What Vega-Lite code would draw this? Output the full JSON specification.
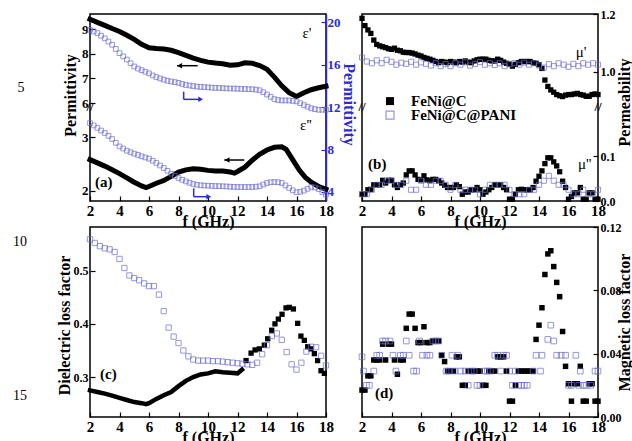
{
"$schema": "https://vega.github.io/schema/vega-lite/v6.json",
"background": "white",
"padding": {"left": 12, "top": 7, "right": 5, "bottom": 5},
"config": {
 "view": {"stroke": null},
 "font": "Liberation Serif",
 "axis": {"grid": false, "domain": false, "tickColor": "black", "tickWidth": 1.2, "tickSize": -5, "labelFont": "Liberation Serif", "labelFontWeight": "bold", "labelFontSize": 13, "labelColor": "black", "labelPadding": 7, "labelFlush": false, "labelOverlap": false, "titleFont": "Liberation Serif", "titleFontWeight": "bold", "titleFontSize": 16, "titleColor": "black"},
 "axisX": {"values": [2, 3, 4, 5, 6, 7, 8, 9, 10, 11, 12, 13, 14, 15, 16, 17, 18], "labelExpr": "datum.value % 2 == 0 ? datum.label : ''", "tickSize": {"condition": {"test": "datum.value % 2 == 1", "value": -3}, "value": -5}, "labelFontSize": 15, "titlePadding": -5}
},
"datasets": {
 "eps1_C": [{"f":2,"v":9.4},{"f":2.5,"v":9.27},{"f":3,"v":9.15},{"f":3.5,"v":9.02},{"f":4,"v":8.9},{"f":4.5,"v":8.75},{"f":5,"v":8.58},{"f":5.5,"v":8.38},{"f":6,"v":8.24},{"f":6.5,"v":8.21},{"f":7,"v":8.19},{"f":7.5,"v":8.14},{"f":8,"v":8.04},{"f":8.5,"v":7.93},{"f":9,"v":7.82},{"f":9.5,"v":7.73},{"f":10,"v":7.66},{"f":10.5,"v":7.62},{"f":11,"v":7.59},{"f":11.5,"v":7.53},{"f":12,"v":7.55},{"f":12.5,"v":7.63},{"f":13,"v":7.61},{"f":13.5,"v":7.52},{"f":14,"v":7.37},{"f":14.5,"v":7.05},{"f":15,"v":6.7},{"f":15.5,"v":6.42},{"f":16,"v":6.27},{"f":16.5,"v":6.42},{"f":17,"v":6.54},{"f":17.5,"v":6.62},{"f":18,"v":6.68}],
 "eps1_P": [{"f":2,"v":19.3},{"f":2.25,"v":19.15},{"f":2.5,"v":19.0},{"f":2.75,"v":18.75},{"f":3,"v":18.5},{"f":3.25,"v":18.2},{"f":3.5,"v":17.9},{"f":3.75,"v":17.5},{"f":4,"v":17.1},{"f":4.25,"v":16.8},{"f":4.5,"v":16.5},{"f":4.75,"v":16.15},{"f":5,"v":15.85},{"f":5.25,"v":15.65},{"f":5.5,"v":15.5},{"f":5.75,"v":15.35},{"f":6,"v":15.2},{"f":6.25,"v":15.0},{"f":6.5,"v":14.85},{"f":6.75,"v":14.72},{"f":7,"v":14.6},{"f":7.25,"v":14.5},{"f":7.5,"v":14.43},{"f":7.75,"v":14.37},{"f":8,"v":14.3},{"f":8.25,"v":14.2},{"f":8.5,"v":14.1},{"f":8.75,"v":14.05},{"f":9,"v":14.0},{"f":9.25,"v":13.95},{"f":9.5,"v":13.92},{"f":9.75,"v":13.9},{"f":10,"v":13.87},{"f":10.25,"v":13.85},{"f":10.5,"v":13.83},{"f":10.75,"v":13.82},{"f":11,"v":13.8},{"f":11.25,"v":13.78},{"f":11.5,"v":13.77},{"f":11.75,"v":13.76},{"f":12,"v":13.75},{"f":12.25,"v":13.73},{"f":12.5,"v":13.72},{"f":12.75,"v":13.7},{"f":13,"v":13.7},{"f":13.25,"v":13.66},{"f":13.5,"v":13.6},{"f":13.75,"v":13.42},{"f":14,"v":13.2},{"f":14.25,"v":12.98},{"f":14.5,"v":12.77},{"f":14.75,"v":12.68},{"f":15,"v":12.64},{"f":15.25,"v":12.64},{"f":15.5,"v":12.64},{"f":15.75,"v":12.6},{"f":16,"v":12.55},{"f":16.25,"v":12.38},{"f":16.5,"v":12.2},{"f":16.75,"v":12.05},{"f":17,"v":11.9},{"f":17.25,"v":11.82},{"f":17.5,"v":11.76},{"f":17.75,"v":11.76},{"f":18,"v":11.76}],
 "eps2_C": [{"f":2,"v":2.58},{"f":2.5,"v":2.52},{"f":3,"v":2.46},{"f":3.5,"v":2.39},{"f":4,"v":2.32},{"f":4.5,"v":2.24},{"f":5,"v":2.16},{"f":5.5,"v":2.09},{"f":5.8,"v":2.06},{"f":6,"v":2.08},{"f":6.5,"v":2.14},{"f":7,"v":2.19},{"f":7.5,"v":2.27},{"f":8,"v":2.35},{"f":8.5,"v":2.39},{"f":9,"v":2.41},{"f":9.5,"v":2.4},{"f":10,"v":2.38},{"f":10.5,"v":2.37},{"f":11,"v":2.37},{"f":11.5,"v":2.35},{"f":11.8,"v":2.33},{"f":12,"v":2.36},{"f":12.5,"v":2.44},{"f":13,"v":2.57},{"f":13.5,"v":2.68},{"f":14,"v":2.76},{"f":14.5,"v":2.81},{"f":15,"v":2.82},{"f":15.3,"v":2.77},{"f":15.6,"v":2.64},{"f":15.9,"v":2.51},{"f":16.2,"v":2.38},{"f":16.6,"v":2.25},{"f":17,"v":2.16},{"f":17.5,"v":2.08},{"f":18,"v":2.03}],
 "eps2_P": [{"f":2,"v":10.5},{"f":2.25,"v":10.28},{"f":2.5,"v":10.05},{"f":2.75,"v":9.8},{"f":3,"v":9.57},{"f":3.25,"v":9.3},{"f":3.5,"v":9.0},{"f":3.75,"v":8.65},{"f":4,"v":8.3},{"f":4.25,"v":8.1},{"f":4.5,"v":7.9},{"f":4.75,"v":7.75},{"f":5,"v":7.62},{"f":5.25,"v":7.5},{"f":5.5,"v":7.37},{"f":5.75,"v":7.26},{"f":6,"v":7.15},{"f":6.25,"v":6.95},{"f":6.5,"v":6.74},{"f":6.75,"v":6.5},{"f":7,"v":6.27},{"f":7.25,"v":6.0},{"f":7.5,"v":5.73},{"f":7.75,"v":5.52},{"f":8,"v":5.32},{"f":8.25,"v":5.15},{"f":8.5,"v":5.0},{"f":8.75,"v":4.87},{"f":9,"v":4.76},{"f":9.25,"v":4.68},{"f":9.5,"v":4.63},{"f":9.75,"v":4.61},{"f":10,"v":4.6},{"f":10.25,"v":4.58},{"f":10.5,"v":4.56},{"f":10.75,"v":4.55},{"f":11,"v":4.54},{"f":11.25,"v":4.52},{"f":11.5,"v":4.5},{"f":11.75,"v":4.48},{"f":12,"v":4.47},{"f":12.25,"v":4.47},{"f":12.5,"v":4.47},{"f":12.75,"v":4.47},{"f":13,"v":4.47},{"f":13.25,"v":4.5},{"f":13.5,"v":4.54},{"f":13.75,"v":4.7},{"f":14,"v":4.85},{"f":14.25,"v":4.92},{"f":14.5,"v":4.94},{"f":14.75,"v":4.92},{"f":15,"v":4.85},{"f":15.25,"v":4.62},{"f":15.5,"v":4.38},{"f":15.75,"v":4.15},{"f":16,"v":3.97},{"f":16.25,"v":4.02},{"f":16.5,"v":4.13},{"f":16.75,"v":4.3},{"f":17,"v":4.47},{"f":17.25,"v":4.42},{"f":17.5,"v":4.28},{"f":17.75,"v":4.0},{"f":18,"v":3.75}],
 "mu1_C": [{"f":2,"v":1.185},{"f":2.2,"v":1.16},{"f":2.4,"v":1.145},{"f":2.6,"v":1.133},{"f":2.8,"v":1.11},{"f":3,"v":1.095},{"f":3.2,"v":1.09},{"f":3.4,"v":1.087},{"f":3.6,"v":1.084},{"f":3.8,"v":1.08},{"f":4,"v":1.078},{"f":4.2,"v":1.082},{"f":4.4,"v":1.075},{"f":4.6,"v":1.073},{"f":4.8,"v":1.068},{"f":5,"v":1.067},{"f":5.2,"v":1.067},{"f":5.4,"v":1.065},{"f":5.6,"v":1.062},{"f":5.8,"v":1.058},{"f":6,"v":1.055},{"f":6.2,"v":1.05},{"f":6.4,"v":1.047},{"f":6.6,"v":1.044},{"f":6.8,"v":1.04},{"f":7,"v":1.036},{"f":7.2,"v":1.032},{"f":7.4,"v":1.036},{"f":7.6,"v":1.034},{"f":7.8,"v":1.032},{"f":8,"v":1.036},{"f":8.2,"v":1.034},{"f":8.4,"v":1.032},{"f":8.6,"v":1.036},{"f":8.8,"v":1.034},{"f":9,"v":1.038},{"f":9.2,"v":1.034},{"f":9.4,"v":1.032},{"f":9.6,"v":1.038},{"f":9.8,"v":1.042},{"f":10,"v":1.044},{"f":10.2,"v":1.044},{"f":10.4,"v":1.044},{"f":10.6,"v":1.04},{"f":10.8,"v":1.038},{"f":11,"v":1.038},{"f":11.2,"v":1.044},{"f":11.4,"v":1.04},{"f":11.6,"v":1.034},{"f":11.8,"v":1.03},{"f":12,"v":1.027},{"f":12.2,"v":1.02},{"f":12.4,"v":1.026},{"f":12.6,"v":1.032},{"f":12.8,"v":1.036},{"f":13,"v":1.036},{"f":13.2,"v":1.036},{"f":13.4,"v":1.036},{"f":13.6,"v":1.032},{"f":13.8,"v":1.03},{"f":14,"v":1.025},{"f":14.2,"v":1.012},{"f":14.4,"v":0.972},{"f":14.6,"v":0.95},{"f":14.8,"v":0.938},{"f":15,"v":0.93},{"f":15.2,"v":0.922},{"f":15.4,"v":0.918},{"f":15.6,"v":0.915},{"f":15.8,"v":0.92},{"f":16,"v":0.922},{"f":16.2,"v":0.922},{"f":16.4,"v":0.924},{"f":16.6,"v":0.926},{"f":16.8,"v":0.922},{"f":17,"v":0.92},{"f":17.2,"v":0.916},{"f":17.4,"v":0.916},{"f":17.6,"v":0.922},{"f":17.8,"v":0.924},{"f":18,"v":0.922}],
 "mu1_P": [{"f":2,"v":1.05},{"f":2.33,"v":1.036},{"f":2.67,"v":1.03},{"f":3,"v":1.04},{"f":3.33,"v":1.03},{"f":3.67,"v":1.042},{"f":4,"v":1.035},{"f":4.33,"v":1.025},{"f":4.67,"v":1.032},{"f":5,"v":1.028},{"f":5.33,"v":1.035},{"f":5.67,"v":1.025},{"f":6,"v":1.033},{"f":6.33,"v":1.028},{"f":6.67,"v":1.022},{"f":7,"v":1.03},{"f":7.33,"v":1.02},{"f":7.67,"v":1.027},{"f":8,"v":1.02},{"f":8.33,"v":1.03},{"f":8.67,"v":1.025},{"f":9,"v":1.033},{"f":9.33,"v":1.022},{"f":9.67,"v":1.028},{"f":10,"v":1.034},{"f":10.33,"v":1.025},{"f":10.67,"v":1.03},{"f":11,"v":1.024},{"f":11.33,"v":1.03},{"f":11.67,"v":1.02},{"f":12,"v":1.027},{"f":12.33,"v":1.03},{"f":12.67,"v":1.025},{"f":13,"v":1.032},{"f":13.33,"v":1.025},{"f":13.67,"v":1.03},{"f":14,"v":1.022},{"f":14.33,"v":1.015},{"f":14.67,"v":1.027},{"f":15,"v":1.02},{"f":15.33,"v":1.03},{"f":15.67,"v":1.025},{"f":16,"v":1.018},{"f":16.33,"v":1.028},{"f":16.67,"v":1.02},{"f":17,"v":1.03},{"f":17.33,"v":1.025},{"f":17.67,"v":1.03},{"f":18,"v":1.025}],
 "mu2_C": [{"f":2,"v":0.015},{"f":2.2,"v":0.015},{"f":2.4,"v":0.025},{"f":2.6,"v":0.026},{"f":2.8,"v":0.036},{"f":3,"v":0.036},{"f":3.2,"v":0.036},{"f":3.4,"v":0.046},{"f":3.6,"v":0.04},{"f":3.8,"v":0.046},{"f":4,"v":0.046},{"f":4.2,"v":0.036},{"f":4.4,"v":0.03},{"f":4.6,"v":0.036},{"f":4.8,"v":0.04},{"f":5,"v":0.058},{"f":5.2,"v":0.067},{"f":5.4,"v":0.067},{"f":5.6,"v":0.058},{"f":5.8,"v":0.048},{"f":6,"v":0.047},{"f":6.2,"v":0.056},{"f":6.4,"v":0.047},{"f":6.6,"v":0.045},{"f":6.8,"v":0.048},{"f":7,"v":0.048},{"f":7.2,"v":0.045},{"f":7.4,"v":0.04},{"f":7.6,"v":0.035},{"f":7.8,"v":0.03},{"f":8,"v":0.03},{"f":8.2,"v":0.03},{"f":8.4,"v":0.036},{"f":8.6,"v":0.032},{"f":8.8,"v":0.015},{"f":9,"v":0.02},{"f":9.2,"v":0.02},{"f":9.4,"v":0.025},{"f":9.6,"v":0.025},{"f":9.8,"v":0.03},{"f":10,"v":0.025},{"f":10.2,"v":0.015},{"f":10.4,"v":0.02},{"f":10.6,"v":0.025},{"f":10.8,"v":0.03},{"f":11,"v":0.036},{"f":11.2,"v":0.036},{"f":11.4,"v":0.036},{"f":11.6,"v":0.03},{"f":11.8,"v":0.025},{"f":12,"v":0.004},{"f":12.2,"v":0.004},{"f":12.4,"v":0.015},{"f":12.6,"v":0.025},{"f":12.8,"v":0.026},{"f":13,"v":0.025},{"f":13.2,"v":0.025},{"f":13.4,"v":0.025},{"f":13.6,"v":0.03},{"f":13.8,"v":0.044},{"f":14,"v":0.055},{"f":14.2,"v":0.067},{"f":14.4,"v":0.083},{"f":14.6,"v":0.096},{"f":14.8,"v":0.096},{"f":15,"v":0.087},{"f":15.2,"v":0.078},{"f":15.4,"v":0.065},{"f":15.6,"v":0.044},{"f":15.8,"v":0.03},{"f":16,"v":0.004},{"f":16.2,"v":0.01},{"f":16.4,"v":0.018},{"f":16.6,"v":0.018},{"f":16.8,"v":0.03},{"f":17,"v":0.004},{"f":17.2,"v":0.004},{"f":17.4,"v":0.018},{"f":17.6,"v":0.018},{"f":17.8,"v":0.004},{"f":18,"v":0.004}],
 "mu2_P": [{"f":2,"v":0.015},{"f":2.33,"v":0.015},{"f":2.67,"v":0.025},{"f":3,"v":0.036},{"f":3.33,"v":0.036},{"f":3.67,"v":0.045},{"f":4,"v":0.045},{"f":4.33,"v":0.036},{"f":4.67,"v":0.036},{"f":5,"v":0.045},{"f":5.33,"v":0.025},{"f":5.67,"v":0.025},{"f":6,"v":0.045},{"f":6.33,"v":0.036},{"f":6.67,"v":0.036},{"f":7,"v":0.045},{"f":7.33,"v":0.045},{"f":7.67,"v":0.036},{"f":8,"v":0.025},{"f":8.33,"v":0.036},{"f":8.67,"v":0.025},{"f":9,"v":0.025},{"f":9.33,"v":0.025},{"f":9.67,"v":0.025},{"f":10,"v":0.015},{"f":10.33,"v":0.025},{"f":10.67,"v":0.036},{"f":11,"v":0.036},{"f":11.33,"v":0.036},{"f":11.67,"v":0.036},{"f":12,"v":0.025},{"f":12.33,"v":0.015},{"f":12.67,"v":0.015},{"f":13,"v":0.015},{"f":13.33,"v":0.025},{"f":13.67,"v":0.025},{"f":14,"v":0.036},{"f":14.33,"v":0.045},{"f":14.67,"v":0.056},{"f":15,"v":0.045},{"f":15.33,"v":0.036},{"f":15.67,"v":0.036},{"f":16,"v":0.025},{"f":16.33,"v":0.015},{"f":16.67,"v":0.015},{"f":17,"v":0.025},{"f":17.33,"v":0.015},{"f":17.67,"v":0.015},{"f":18,"v":0.025}],
 "tanE_CL": [{"f":2,"v":0.275},{"f":2.5,"v":0.272},{"f":3,"v":0.269},{"f":3.5,"v":0.265},{"f":4,"v":0.261},{"f":4.5,"v":0.257},{"f":5,"v":0.253},{"f":5.5,"v":0.251},{"f":5.8,"v":0.249},{"f":6,"v":0.251},{"f":6.5,"v":0.259},{"f":7,"v":0.266},{"f":7.5,"v":0.272},{"f":8,"v":0.283},{"f":8.5,"v":0.293},{"f":9,"v":0.3},{"f":9.5,"v":0.305},{"f":10,"v":0.307},{"f":10.5,"v":0.311},{"f":11,"v":0.309},{"f":11.5,"v":0.308},{"f":12,"v":0.307},{"f":12.3,"v":0.314}],
 "tanE_CP": [{"f":12.58,"v":0.331},{"f":12.92,"v":0.345},{"f":13.19,"v":0.351},{"f":13.48,"v":0.353},{"f":13.82,"v":0.36},{"f":14.05,"v":0.372},{"f":14.32,"v":0.388},{"f":14.54,"v":0.4},{"f":14.77,"v":0.409},{"f":15.02,"v":0.418},{"f":15.29,"v":0.43},{"f":15.51,"v":0.431},{"f":15.79,"v":0.428},{"f":16.08,"v":0.401},{"f":16.3,"v":0.377},{"f":16.53,"v":0.369},{"f":16.76,"v":0.357},{"f":16.98,"v":0.353},{"f":17.21,"v":0.344},{"f":17.43,"v":0.331},{"f":17.66,"v":0.312},{"f":17.89,"v":0.307}],
 "tanE_P": [{"f":2,"v":0.559},{"f":2.33,"v":0.552},{"f":2.67,"v":0.546},{"f":3,"v":0.542},{"f":3.33,"v":0.54},{"f":3.67,"v":0.535},{"f":4,"v":0.522},{"f":4.33,"v":0.505},{"f":4.67,"v":0.491},{"f":5,"v":0.486},{"f":5.33,"v":0.482},{"f":5.67,"v":0.476},{"f":6,"v":0.471},{"f":6.33,"v":0.471},{"f":6.67,"v":0.455},{"f":7,"v":0.424},{"f":7.33,"v":0.393},{"f":7.67,"v":0.376},{"f":8,"v":0.364},{"f":8.33,"v":0.35},{"f":8.67,"v":0.339},{"f":9,"v":0.333},{"f":9.33,"v":0.331},{"f":9.67,"v":0.331},{"f":10,"v":0.331},{"f":10.33,"v":0.33},{"f":10.67,"v":0.33},{"f":11,"v":0.329},{"f":11.33,"v":0.328},{"f":11.67,"v":0.327},{"f":12,"v":0.326},{"f":12.33,"v":0.325},{"f":12.67,"v":0.324},{"f":13,"v":0.323},{"f":13.33,"v":0.327},{"f":13.67,"v":0.343},{"f":14,"v":0.36},{"f":14.33,"v":0.377},{"f":14.67,"v":0.382},{"f":15,"v":0.37},{"f":15.33,"v":0.347},{"f":15.67,"v":0.324},{"f":16,"v":0.314},{"f":16.33,"v":0.327},{"f":16.67,"v":0.348},{"f":17,"v":0.357},{"f":17.33,"v":0.356},{"f":17.67,"v":0.34},{"f":18,"v":0.322}],
 "tanM_C": [{"f":2,"v":0.017},{"f":2.2,"v":0.017},{"f":2.4,"v":0.026},{"f":2.6,"v":0.026},{"f":2.8,"v":0.036},{"f":3,"v":0.036},{"f":3.2,"v":0.036},{"f":3.4,"v":0.046},{"f":3.6,"v":0.036},{"f":3.8,"v":0.046},{"f":4,"v":0.046},{"f":4.2,"v":0.036},{"f":4.4,"v":0.027},{"f":4.6,"v":0.036},{"f":4.8,"v":0.036},{"f":5,"v":0.056},{"f":5.2,"v":0.065},{"f":5.4,"v":0.065},{"f":5.6,"v":0.056},{"f":5.8,"v":0.047},{"f":6,"v":0.047},{"f":6.2,"v":0.057},{"f":6.4,"v":0.047},{"f":6.6,"v":0.047},{"f":6.8,"v":0.048},{"f":7,"v":0.048},{"f":7.2,"v":0.048},{"f":7.4,"v":0.039},{"f":7.6,"v":0.035},{"f":7.8,"v":0.029},{"f":8,"v":0.029},{"f":8.2,"v":0.029},{"f":8.4,"v":0.038},{"f":8.6,"v":0.038},{"f":8.8,"v":0.02},{"f":9,"v":0.02},{"f":9.2,"v":0.029},{"f":9.4,"v":0.029},{"f":9.6,"v":0.029},{"f":9.8,"v":0.029},{"f":10,"v":0.029},{"f":10.2,"v":0.02},{"f":10.4,"v":0.02},{"f":10.6,"v":0.029},{"f":10.8,"v":0.029},{"f":11,"v":0.029},{"f":11.2,"v":0.038},{"f":11.4,"v":0.038},{"f":11.6,"v":0.038},{"f":11.8,"v":0.029},{"f":12,"v":0.01},{"f":12.2,"v":0.01},{"f":12.4,"v":0.02},{"f":12.6,"v":0.029},{"f":12.8,"v":0.029},{"f":13,"v":0.029},{"f":13.2,"v":0.029},{"f":13.4,"v":0.029},{"f":13.6,"v":0.029},{"f":13.8,"v":0.049},{"f":14,"v":0.058},{"f":14.2,"v":0.069},{"f":14.4,"v":0.09},{"f":14.6,"v":0.103},{"f":14.8,"v":0.105},{"f":15,"v":0.095},{"f":15.2,"v":0.085},{"f":15.4,"v":0.076},{"f":15.6,"v":0.054},{"f":15.8,"v":0.032},{"f":16,"v":0.021},{"f":16.2,"v":0.01},{"f":16.4,"v":0.021},{"f":16.6,"v":0.021},{"f":16.8,"v":0.032},{"f":17,"v":0.01},{"f":17.2,"v":0.01},{"f":17.4,"v":0.021},{"f":17.6,"v":0.021},{"f":17.8,"v":0.01},{"f":18,"v":0.01}],
 "tanM_P": [{"f":2,"v":0.038},{"f":2.1,"v":0.029},{"f":2.3,"v":0.02},{"f":2.5,"v":0.02},{"f":2.8,"v":0.029},{"f":3,"v":0.039},{"f":3.2,"v":0.039},{"f":3.4,"v":0.048},{"f":3.6,"v":0.048},{"f":3.9,"v":0.048},{"f":4.1,"v":0.039},{"f":4.3,"v":0.029},{"f":4.6,"v":0.039},{"f":4.8,"v":0.039},{"f":5,"v":0.048},{"f":5.2,"v":0.039},{"f":5.5,"v":0.029},{"f":5.7,"v":0.029},{"f":5.9,"v":0.048},{"f":6.1,"v":0.039},{"f":6.4,"v":0.039},{"f":6.6,"v":0.039},{"f":6.8,"v":0.048},{"f":7,"v":0.048},{"f":7.2,"v":0.048},{"f":7.4,"v":0.039},{"f":7.7,"v":0.029},{"f":7.9,"v":0.029},{"f":8.1,"v":0.039},{"f":8.3,"v":0.029},{"f":8.5,"v":0.039},{"f":8.7,"v":0.029},{"f":9,"v":0.029},{"f":9.2,"v":0.02},{"f":9.4,"v":0.029},{"f":9.6,"v":0.029},{"f":9.8,"v":0.02},{"f":10,"v":0.02},{"f":10.3,"v":0.029},{"f":10.5,"v":0.029},{"f":10.7,"v":0.029},{"f":11,"v":0.039},{"f":11.2,"v":0.039},{"f":11.4,"v":0.029},{"f":11.6,"v":0.039},{"f":11.8,"v":0.039},{"f":12,"v":0.029},{"f":12.2,"v":0.02},{"f":12.4,"v":0.029},{"f":12.6,"v":0.02},{"f":12.8,"v":0.02},{"f":13,"v":0.02},{"f":13.2,"v":0.02},{"f":13.6,"v":0.029},{"f":13.8,"v":0.039},{"f":14.1,"v":0.029},{"f":14.2,"v":0.039},{"f":14.6,"v":0.049},{"f":14.8,"v":0.058},{"f":15,"v":0.048},{"f":15.2,"v":0.039},{"f":15.5,"v":0.039},{"f":15.8,"v":0.039},{"f":16,"v":0.02},{"f":16.2,"v":0.02},{"f":16.5,"v":0.039},{"f":16.7,"v":0.02},{"f":16.8,"v":0.029},{"f":17,"v":0.02},{"f":17.2,"v":0.02},{"f":17.5,"v":0.02},{"f":17.8,"v":0.029},{"f":18,"v":0.029}],
 "notes": [
  {"p":"a1","k":"g","f":16.71,"v":8.84,"t":"ε'"},
  {"p":"a1","k":"n","f":-2.68,"v":6.61,"t":"5"},
  {"p":"a2","k":"g","f":16.64,"v":3.225,"t":"ε''"},
  {"p":"a2","k":"tg","f":2.34,"v":2.16,"t":"(a)"},
  {"p":"a2","k":"bk","f":2,"v":3.56,"t":"//"},
  {"p":"b1","k":"g","f":16.85,"v":1.069,"t":"μ'"},
  {"p":"b2","k":"g","f":17.1,"v":0.082,"t":"μ''"},
  {"p":"b2","k":"tg","f":2.41,"v":0.082,"t":"(b)"},
  {"p":"b2","k":"tg","f":5.32,"v":0.222,"t":"FeNi@C"},
  {"p":"b2","k":"tg","f":5.32,"v":0.191,"t":"FeNi@C@PANI"},
  {"p":"b2","k":"bk","f":2,"v":0.209,"t":"//"},
  {"p":"b2","k":"bk","f":18,"v":0.209,"t":"//"},
  {"p":"c","k":"tg","f":2.68,"v":0.306,"t":"(c)"},
  {"p":"c","k":"n","f":-2.75,"v":0.554,"t":"10"},
  {"p":"c","k":"n","f":-2.75,"v":0.264,"t":"15"},
  {"p":"d","k":"tg","f":2.88,"v":0.0152,"t":"(d)"}
 ],
 "seg": [
  {"p":"a1","s":"C","f":7.9,"v":7.514,"f2":9.3,"v2":7.514},
  {"p":"a1","s":"P","f":8.35,"v":6.46,"f2":8.35,"v2":6.15},
  {"p":"a1","s":"P","f":8.35,"v":6.15,"f2":9.4,"v2":6.15},
  {"p":"a2","s":"C","f":11.1,"v":2.573,"f2":12.46,"v2":2.573},
  {"p":"a2","s":"P","f":9.03,"v":2.046,"f2":9.03,"v2":1.89},
  {"p":"a2","s":"P","f":9.03,"v":1.89,"f2":9.95,"v2":1.89}
 ],
 "head": [
  {"p":"a1","s":"C","f":8.08,"v":7.514},
  {"p":"a1","s":"P","f":9.5,"v":6.15},
  {"p":"a2","s":"C","f":11.3,"v":2.573},
  {"p":"a2","s":"P","f":10.05,"v":1.89}
 ],
 "leg": [{"f":3.9,"v":0.222,"s":"FeNi@C"},{"f":3.9,"v":0.191,"s":"FeNi@C@PANI"}]
},
"columns": 2,
"spacing": {"row": 26, "column": 36},
"bounds": "flush",
"concat": [
 {"width": 236, "height": 187,
  "view": {"stroke": "black", "strokeWidth": 1.5},
  "layer": [
   {"layer": [
    {"data": {"name": "eps1_C"}, "mark": {"type": "line", "color": "black", "strokeWidth": 5, "strokeCap": "square"},
     "encoding": {"x": {"field": "f", "type": "quantitative", "scale": {"domain": [2, 18], "nice": false, "zero": false}, "axis": {"title": "f (GHz)"}},
                  "y": {"field": "v", "type": "quantitative", "scale": {"domain": [5.84, 9.61], "range": [93, 0], "nice": false, "zero": false}, "axis": {"orient": "left", "values": [6, 7, 8, 9], "title": "Permittivity", "titleX": -12, "titleY": 81}}}},
    {"data": {"name": "notes"}, "transform": [{"filter": "datum.p=='a1' && datum.k=='g'"}], "mark": {"type": "text", "font": "Liberation Serif", "fontSize": 15, "color": "black"}, "encoding": {"x": {"field": "f", "type": "quantitative"}, "y": {"field": "v", "type": "quantitative"}, "text": {"field": "t"}}},
    {"data": {"name": "notes"}, "transform": [{"filter": "datum.p=='a1' && datum.k=='n'"}], "mark": {"type": "text", "font": "Liberation Serif", "fontSize": 14, "color": "black"}, "encoding": {"x": {"field": "f", "type": "quantitative"}, "y": {"field": "v", "type": "quantitative"}, "text": {"field": "t"}}},
    {"data": {"name": "seg"}, "transform": [{"filter": "datum.p=='a1' && datum.s=='C'"}], "mark": {"type": "rule", "color": "black", "strokeWidth": 1.5}, "encoding": {"x": {"field": "f", "type": "quantitative"}, "x2": {"field": "f2"}, "y": {"field": "v", "type": "quantitative"}, "y2": {"field": "v2"}}},
    {"data": {"name": "seg"}, "transform": [{"filter": "datum.p=='a1' && datum.s=='P'"}], "mark": {"type": "rule", "color": "#2b2bd9", "strokeWidth": 1.5}, "encoding": {"x": {"field": "f", "type": "quantitative"}, "x2": {"field": "f2"}, "y": {"field": "v", "type": "quantitative"}, "y2": {"field": "v2"}}},
    {"data": {"name": "head"}, "transform": [{"filter": "datum.p=='a1' && datum.s=='C'"}], "mark": {"type": "point", "shape": "triangle-left", "filled": true, "color": "black", "size": 30, "opacity": 1}, "encoding": {"x": {"field": "f", "type": "quantitative"}, "y": {"field": "v", "type": "quantitative"}}},
    {"data": {"name": "head"}, "transform": [{"filter": "datum.p=='a1' && datum.s=='P'"}], "mark": {"type": "point", "shape": "triangle-right", "filled": true, "color": "#2b2bd9", "size": 30, "opacity": 1}, "encoding": {"x": {"field": "f", "type": "quantitative"}, "y": {"field": "v", "type": "quantitative"}}}
   ]},
   {"layer": [
    {"data": {"name": "eps2_C"}, "mark": {"type": "line", "color": "black", "strokeWidth": 5, "strokeCap": "square"},
     "encoding": {"x": {"field": "f", "type": "quantitative"},
                  "y": {"field": "v", "type": "quantitative", "scale": {"domain": [1.81, 3.56], "range": [187, 93], "nice": false, "zero": false}, "axis": {"orient": "left", "values": [2, 3], "format": "d", "title": null}}}},
    {"data": {"name": "notes"}, "transform": [{"filter": "datum.p=='a2' && datum.k=='g'"}], "mark": {"type": "text", "font": "Liberation Serif", "fontSize": 15, "color": "black"}, "encoding": {"x": {"field": "f", "type": "quantitative"}, "y": {"field": "v", "type": "quantitative"}, "text": {"field": "t"}}},
    {"data": {"name": "notes"}, "transform": [{"filter": "datum.p=='a2' && datum.k=='tg'"}], "mark": {"type": "text", "font": "Liberation Serif", "fontSize": 15, "fontWeight": "bold", "align": "left", "color": "black"}, "encoding": {"x": {"field": "f", "type": "quantitative"}, "y": {"field": "v", "type": "quantitative"}, "text": {"field": "t"}}},
    {"data": {"name": "notes"}, "transform": [{"filter": "datum.p=='a2' && datum.k=='bk'"}], "mark": {"type": "text", "font": "Liberation Serif", "fontSize": 13, "fontWeight": "bold", "color": "black"}, "encoding": {"x": {"field": "f", "type": "quantitative"}, "y": {"field": "v", "type": "quantitative"}, "text": {"field": "t"}}},
    {"data": {"name": "seg"}, "transform": [{"filter": "datum.p=='a2' && datum.s=='C'"}], "mark": {"type": "rule", "color": "black", "strokeWidth": 1.5}, "encoding": {"x": {"field": "f", "type": "quantitative"}, "x2": {"field": "f2"}, "y": {"field": "v", "type": "quantitative"}, "y2": {"field": "v2"}}},
    {"data": {"name": "seg"}, "transform": [{"filter": "datum.p=='a2' && datum.s=='P'"}], "mark": {"type": "rule", "color": "#2b2bd9", "strokeWidth": 1.5}, "encoding": {"x": {"field": "f", "type": "quantitative"}, "x2": {"field": "f2"}, "y": {"field": "v", "type": "quantitative"}, "y2": {"field": "v2"}}},
    {"data": {"name": "head"}, "transform": [{"filter": "datum.p=='a2' && datum.s=='C'"}], "mark": {"type": "point", "shape": "triangle-left", "filled": true, "color": "black", "size": 30, "opacity": 1}, "encoding": {"x": {"field": "f", "type": "quantitative"}, "y": {"field": "v", "type": "quantitative"}}},
    {"data": {"name": "head"}, "transform": [{"filter": "datum.p=='a2' && datum.s=='P'"}], "mark": {"type": "point", "shape": "triangle-right", "filled": true, "color": "#2b2bd9", "size": 30, "opacity": 1}, "encoding": {"x": {"field": "f", "type": "quantitative"}, "y": {"field": "v", "type": "quantitative"}}}
   ]},
   {"layer": [
    {"data": {"name": "eps1_P"}, "mark": {"type": "point", "shape": "square", "filled": false, "color": "#6a6ad4", "size": 22, "strokeWidth": 1},
     "encoding": {"x": {"field": "f", "type": "quantitative"},
                  "y": {"field": "v", "type": "quantitative", "scale": {"domain": [3.15, 20.8], "nice": false, "zero": false}, "axis": {"orient": "right", "values": [4, 8, 12, 16, 20], "labelPadding": 6, "title": "Permittivity", "titleX": 14, "titleY": 90, "titleColor": "#2b2bd9", "labelColor": "#2b2bd9", "tickColor": "#2b2bd9", "domain": true, "domainColor": "#2b2bd9", "domainWidth": 1.5}}}},
    {"data": {"name": "eps2_P"}, "mark": {"type": "point", "shape": "square", "filled": false, "color": "#6a6ad4", "size": 22, "strokeWidth": 1},
     "encoding": {"x": {"field": "f", "type": "quantitative"}, "y": {"field": "v", "type": "quantitative"}}}
   ]}
  ],
  "resolve": {"scale": {"y": "independent"}, "axis": {"y": "independent"}}
 },
 {"width": 236, "height": 187,
  "view": {"stroke": "black", "strokeWidth": 1.5},
  "layer": [
   {"layer": [
    {"data": {"name": "mu1_C"}, "mark": {"type": "point", "shape": "square", "filled": true, "color": "black", "size": 28, "opacity": 1},
     "encoding": {"x": {"field": "f", "type": "quantitative", "scale": {"domain": [2, 18], "nice": false, "zero": false}, "axis": {"title": "f (GHz)"}},
                  "y": {"field": "v", "type": "quantitative", "scale": {"domain": [0.879, 1.2], "range": [93, 0], "nice": false, "zero": false}, "axis": {"orient": "right", "values": [1.0, 1.2], "format": ".1f", "labelFontSize": 12, "title": "Permeability", "titleAngle": 270, "titleX": 34, "titleY": 88}}}},
    {"data": {"name": "mu1_P"}, "mark": {"type": "point", "shape": "square", "filled": false, "color": "#6a6ad4", "size": 26, "strokeWidth": 1},
     "encoding": {"x": {"field": "f", "type": "quantitative"}, "y": {"field": "v", "type": "quantitative"}}},
    {"data": {"name": "notes"}, "transform": [{"filter": "datum.p=='b1' && datum.k=='g'"}], "mark": {"type": "text", "font": "Liberation Serif", "fontSize": 15, "color": "black"}, "encoding": {"x": {"field": "f", "type": "quantitative"}, "y": {"field": "v", "type": "quantitative"}, "text": {"field": "t"}}}
   ]},
   {"layer": [
    {"data": {"name": "mu2_C"}, "mark": {"type": "point", "shape": "square", "filled": true, "color": "black", "size": 28, "opacity": 1},
     "encoding": {"x": {"field": "f", "type": "quantitative"},
                  "y": {"field": "v", "type": "quantitative", "scale": {"domain": [0, 0.2089], "range": [187, 93], "nice": false, "zero": false}, "axis": {"orient": "right", "values": [0.0, 0.1], "format": ".1f", "labelFontSize": 12, "title": null}}}},
    {"data": {"name": "mu2_P"}, "mark": {"type": "point", "shape": "square", "filled": false, "color": "#6a6ad4", "size": 26, "strokeWidth": 1},
     "encoding": {"x": {"field": "f", "type": "quantitative"}, "y": {"field": "v", "type": "quantitative"}}},
    {"data": {"name": "leg"}, "transform": [{"filter": "datum.s=='FeNi@C'"}], "mark": {"type": "point", "shape": "square", "filled": true, "color": "black", "size": 64, "opacity": 1},
     "encoding": {"x": {"field": "f", "type": "quantitative"}, "y": {"field": "v", "type": "quantitative"}}},
    {"data": {"name": "leg"}, "transform": [{"filter": "datum.s=='FeNi@C@PANI'"}], "mark": {"type": "point", "shape": "square", "filled": false, "color": "#6a6ad4", "size": 64, "strokeWidth": 1.2},
     "encoding": {"x": {"field": "f", "type": "quantitative"}, "y": {"field": "v", "type": "quantitative"}}},
    {"data": {"name": "notes"}, "transform": [{"filter": "datum.p=='b2' && datum.k=='g'"}], "mark": {"type": "text", "font": "Liberation Serif", "fontSize": 15, "color": "black"}, "encoding": {"x": {"field": "f", "type": "quantitative"}, "y": {"field": "v", "type": "quantitative"}, "text": {"field": "t"}}},
    {"data": {"name": "notes"}, "transform": [{"filter": "datum.p=='b2' && datum.k=='tg'"}], "mark": {"type": "text", "font": "Liberation Serif", "fontSize": 15, "fontWeight": "bold", "align": "left", "color": "black"}, "encoding": {"x": {"field": "f", "type": "quantitative"}, "y": {"field": "v", "type": "quantitative"}, "text": {"field": "t"}}},
    {"data": {"name": "notes"}, "transform": [{"filter": "datum.p=='b2' && datum.k=='bk'"}], "mark": {"type": "text", "font": "Liberation Serif", "fontSize": 13, "fontWeight": "bold", "color": "black"}, "encoding": {"x": {"field": "f", "type": "quantitative"}, "y": {"field": "v", "type": "quantitative"}, "text": {"field": "t"}}}
   ]}
  ],
  "resolve": {"scale": {"y": "independent"}, "axis": {"y": "independent"}}
 },
 {"width": 236, "height": 190,
  "view": {"stroke": "black", "strokeWidth": 1.5},
  "layer": [
   {"data": {"name": "tanE_CL"}, "mark": {"type": "line", "color": "black", "strokeWidth": 4.5, "strokeCap": "square"},
    "encoding": {"x": {"field": "f", "type": "quantitative", "scale": {"domain": [2, 18], "nice": false, "zero": false}, "axis": {"title": "f (GHz)"}},
                 "y": {"field": "v", "type": "quantitative", "scale": {"domain": [0.225, 0.582], "nice": false, "zero": false}, "axis": {"values": [0.3, 0.4, 0.5], "format": ".1f", "labelFontSize": 12, "title": "Dielectric loss factor", "titleX": -18, "titleY": 98}}}},
   {"data": {"name": "tanE_CP"}, "mark": {"type": "point", "shape": "square", "filled": true, "color": "black", "size": 28, "opacity": 1},
    "encoding": {"x": {"field": "f", "type": "quantitative"}, "y": {"field": "v", "type": "quantitative"}}},
   {"data": {"name": "tanE_P"}, "mark": {"type": "point", "shape": "square", "filled": false, "color": "#6a6ad4", "size": 28, "strokeWidth": 1},
    "encoding": {"x": {"field": "f", "type": "quantitative"}, "y": {"field": "v", "type": "quantitative"}}},
   {"data": {"name": "notes"}, "transform": [{"filter": "datum.p=='c' && datum.k=='tg'"}], "mark": {"type": "text", "font": "Liberation Serif", "fontSize": 15, "fontWeight": "bold", "align": "left", "color": "black"}, "encoding": {"x": {"field": "f", "type": "quantitative"}, "y": {"field": "v", "type": "quantitative"}, "text": {"field": "t"}}},
   {"data": {"name": "notes"}, "transform": [{"filter": "datum.p=='c' && datum.k=='n'"}], "mark": {"type": "text", "font": "Liberation Serif", "fontSize": 14, "color": "black"}, "encoding": {"x": {"field": "f", "type": "quantitative"}, "y": {"field": "v", "type": "quantitative"}, "text": {"field": "t"}}}
  ]
 },
 {"width": 236, "height": 190,
  "view": {"stroke": "black", "strokeWidth": 1.5},
  "layer": [
   {"data": {"name": "tanM_C"}, "mark": {"type": "point", "shape": "square", "filled": true, "color": "black", "size": 30, "opacity": 1},
    "encoding": {"x": {"field": "f", "type": "quantitative", "scale": {"domain": [2, 18], "nice": false, "zero": false}, "axis": {"title": "f (GHz)"}},
                 "y": {"field": "v", "type": "quantitative", "scale": {"domain": [0, 0.12], "nice": false, "zero": false}, "axis": {"orient": "right", "values": [0, 0.04, 0.08, 0.12], "format": ".2f", "labelFontSize": 12, "title": "Magnetic loss factor", "titleAngle": 270, "titleX": 34, "titleY": 95}}}},
   {"data": {"name": "tanM_P"}, "mark": {"type": "point", "shape": "square", "filled": false, "color": "#6a6ad4", "size": 32, "strokeWidth": 1},
    "encoding": {"x": {"field": "f", "type": "quantitative"}, "y": {"field": "v", "type": "quantitative"}}},
   {"data": {"name": "notes"}, "transform": [{"filter": "datum.p=='d' && datum.k=='tg'"}], "mark": {"type": "text", "font": "Liberation Serif", "fontSize": 15, "fontWeight": "bold", "align": "left", "color": "black"}, "encoding": {"x": {"field": "f", "type": "quantitative"}, "y": {"field": "v", "type": "quantitative"}, "text": {"field": "t"}}}
  ]
 }
]
}
